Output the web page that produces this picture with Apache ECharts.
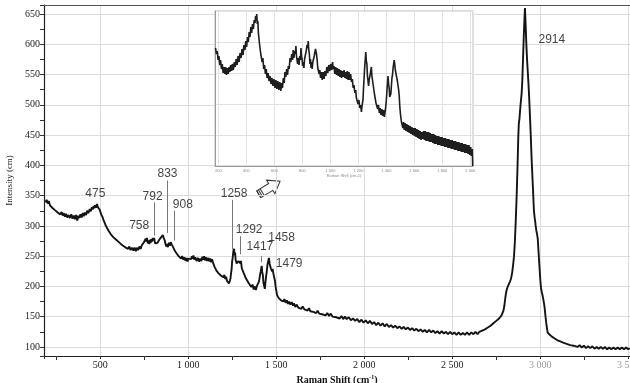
<!DOCTYPE html>
<html>
<head>
<meta charset="utf-8">
<script src="https://cdn.jsdelivr.net/npm/echarts@6/dist/echarts.min.js"></script>
<style>
  html, body { margin: 0; padding: 0; background: #fff; }
  #chart { width: 630px; height: 383px; }
</style>
</head>
<body>
<div id="chart"></div>
<script>
// main spectrum: [raman shift cm-1, intensity]
const mainSpectrum = [
  [188,339],[195,343],[201,337],[207,341],[214,334],[220,337],[227,330],[235,333],[242,326],[250,329],[258,322],[265,325],
  [272,319],[280,323],[286,317],[292,321],[299,315],[305,320],[312,314],[320,318],[327,313],[335,319],[342,312],[349,317],
  [356,311],[362,318],[369,309],[375,317],[381,313],[387,319],[394,314],[400,321],[406,316],[412,322],[419,318],[425,325],
  [432,321],[440,328],[446,324],[452,331],[457,327],[462,333],[466,329],[470,334],[475,330],[481,336],[486,331],[490,334],
  [496,327],[501,324],[505,319],[512,315],[519,309],[525,305],[530,301],[538,298],[547,292],[553,290],[560,286],[568,285],
  [575,281],[585,280],[595,276],[603,276],[610,272],[618,273],[625,268],[633,270],[640,265],[651,268],[658,262],[665,266],
  [672,260],[680,264],[688,259],[695,264],[702,258],[708,264],[715,260],[722,266],[729,262],[736,268],[742,266],[748,273],
  [753,270],[758,279],[762,274],[765,280],[770,271],[775,276],[779,270],[782,277],[786,272],[789,278],[794,274],[798,280],
  [802,276],[806,280],[811,271],[815,274],[820,268],[825,272],[830,270],[835,277],[840,275],[845,281],[850,279],[855,285],
  [859,281],[862,283],[866,276],[870,273],[874,266],[878,270],[884,265],[890,272],[895,267],[900,273],[906,269],[911,272],
  [915,264],[920,263],[925,258],[930,259],[935,254],[940,256],[945,250],[953,251],[959,246],[965,250],[972,244],[978,248],
  [985,242],[991,247],[996,241],[1001,246],[1007,243],[1012,249],[1017,245],[1020,250],[1025,246],[1029,251],[1035,244],
  [1040,248],[1047,242],[1055,247],[1061,241],[1067,246],[1074,242],[1080,249],[1086,244],[1090,250],[1095,243],[1100,248],
  [1107,242],[1114,247],[1120,241],[1125,246],[1130,240],[1135,245],[1142,238],[1146,240],[1150,232],[1155,233],[1160,226],
  [1166,228],[1171,222],[1178,224],[1185,218],[1192,221],[1199,215],[1205,219],[1210,212],[1215,216],[1220,209],[1226,212],
  [1231,205],[1236,209],[1240,214],[1243,222],[1246,228],[1249,241],[1252,247],[1256,258],[1260,262],[1263,252],[1266,256],
  [1269,244],[1272,245],[1275,238],[1278,240],[1282,237],[1285,242],[1289,240],[1292,245],[1296,238],[1299,242],[1304,230],
  [1308,231],[1315,222],[1322,222],[1328,213],[1335,214],[1342,206],[1350,207],[1358,199],[1365,203],[1372,195],[1378,200],
  [1384,194],[1390,201],[1395,198],[1400,207],[1404,212],[1408,220],[1412,225],[1417,234],[1420,224],[1424,218],[1427,206],
  [1430,204],[1435,196],[1438,206],[1442,216],[1446,225],[1450,236],[1454,238],[1458,247],[1462,238],[1465,240],[1469,230],
  [1472,232],[1476,225],[1479,229],[1483,222],[1486,224],[1489,214],[1492,210],[1496,200],[1500,193],[1504,186],[1507,188],
  [1513,181],[1520,183],[1527,177],[1533,180],[1539,175],[1546,179],[1553,173],[1560,177],[1567,171],[1573,175],[1580,170],
  [1588,174],[1595,168],[1600,172],[1608,166],[1615,170],[1625,165],[1633,168],[1642,163],[1650,167],[1660,162],[1668,165],
  [1677,160],[1685,164],[1694,159],[1702,162],[1710,158],[1718,161],[1727,156],[1735,160],[1744,155],[1752,158],[1760,154],
  [1770,157],[1780,152],[1790,156],[1800,151],[1810,155],[1820,150],[1830,153],[1840,149],[1850,152],[1860,147],[1870,151],
  [1880,146],[1890,150],[1900,146],[1912,149],[1924,144],[1936,147],[1948,143],[1960,146],[1972,141],[1984,145],[1996,140],
  [2008,144],[2020,139],[2032,143],[2044,138],[2056,141],[2068,136],[2080,140],[2092,135],[2104,139],[2116,134],[2128,138],
  [2140,133],[2152,136],[2164,132],[2176,135],[2188,131],[2200,134],[2212,130],[2224,133],[2236,129],[2248,132],[2260,128],
  [2272,131],[2284,127],[2296,130],[2308,126],[2320,129],[2332,125],[2344,128],[2356,124],[2368,128],[2380,124],[2392,127],
  [2404,123],[2416,126],[2428,122],[2440,126],[2452,122],[2464,125],[2476,121],[2488,125],[2500,121],[2512,124],[2524,120],
  [2536,124],[2548,120],[2560,123],[2572,120],[2584,124],[2596,120],[2608,124],[2620,121],[2632,125],[2644,121],[2654,125],
  [2662,123],[2670,127],[2678,125],[2686,129],[2694,128],[2702,132],[2710,131],[2718,135],[2726,135],[2734,139],[2742,139],
  [2750,143],[2758,143],[2766,147],[2774,148],[2780,152],[2786,155],[2791,160],[2796,168],[2801,180],[2806,190],[2811,196],
  [2816,200],[2822,204],[2828,208],[2834,213],[2840,222],[2846,236],[2851,250],[2856,275],[2861,310],[2866,350],[2871,400],
  [2875,445],[2878,468],[2882,478],[2888,500],[2894,518],[2898,540],[2902,575],[2906,610],[2910,640],[2913,660],[2917,632],
  [2921,600],[2925,575],[2929,555],[2933,535],[2937,512],[2941,485],[2946,450],[2951,410],[2956,378],[2960,352],[2964,325],
  [2968,314],[2971,308],[2974,300],[2978,292],[2982,286],[2986,278],[2990,258],[2995,235],[3000,212],[3004,198],[3009,190],
  [3014,184],[3019,176],[3024,167],[3030,150],[3036,135],[3042,124],[3048,125],[3054,120],[3060,121],[3066,117],[3074,119],
  [3082,114],[3090,116],[3098,111],[3106,113],[3114,109],[3122,111],[3130,107],[3140,109],[3150,105],[3160,107],[3170,103],
  [3180,105],[3190,102],[3200,104],[3212,100],[3224,103],[3236,99],[3248,102],[3260,98],[3272,101],[3284,98],[3296,101],
  [3308,97],[3320,100],[3332,97],[3344,100],[3356,97],[3368,100],[3380,96],[3392,99],[3404,96],[3416,99],[3428,96],
  [3440,99],[3452,96],[3464,99],[3476,96],[3488,99],[3500,96],[3508,98]
];

// inset spectrum (relative intensity, no scale shown)
const insetSpectrum = [
  [180,118],[186,112],[192,115],[198,106],[204,110],[210,101],[216,106],[222,97],[228,102],[234,93],[240,99],[246,92],
  [252,99],[258,91],[264,98],[270,92],[276,99],[282,94],[288,101],[294,95],[300,102],[307,96],[314,104],[320,99],[327,107],
  [334,101],[341,110],[348,104],[355,113],[362,108],[369,117],[376,111],[383,121],[390,116],[396,125],[402,119],[408,129],
  [414,124],[420,134],[426,129],[432,139],[438,133],[444,142],[450,137],[456,146],[462,143],[466,150],[470,145],[474,152],
  [478,142],[482,145],[486,133],[490,134],[494,122],[498,123],[503,112],[508,114],[513,104],[518,108],[524,97],[530,101],
  [536,92],[542,97],[548,88],[555,93],[562,85],[569,90],[576,82],[583,88],[590,80],[597,87],[604,78],[611,86],[618,77],
  [625,85],[632,76],[639,84],[646,75],[652,83],[658,78],[664,88],[670,83],[676,94],[682,89],[688,97],[694,91],[700,100],
  [706,97],[712,108],[718,104],[724,112],[730,106],[735,116],[740,108],[745,115],[750,112],[754,120],[758,110],[762,112],
  [766,102],[771,108],[776,101],[781,110],[786,106],[790,118],[794,110],[798,107],[802,100],[806,104],[811,98],[816,107],
  [821,108],[826,114],[830,115],[834,121],[838,118],[842,125],[846,116],[850,112],[854,102],[858,107],[862,98],[866,104],
  [870,97],[875,104],[880,103],[885,110],[890,109],[894,117],[897,119],[901,112],[905,107],[910,98],[915,100],[920,92],
  [925,96],[930,88],[936,94],[942,86],[948,94],[955,87],[961,95],[968,90],[975,99],[982,93],[989,101],[996,95],[1003,102],
  [1010,96],[1016,104],[1020,97],[1026,100],[1032,92],[1038,99],[1044,91],[1050,98],[1056,90],[1062,97],[1068,89],[1074,96],
  [1080,88],[1086,95],[1092,89],[1098,96],[1104,88],[1110,94],[1115,87],[1121,95],[1127,86],[1133,94],[1139,86],[1145,92],
  [1151,84],[1157,87],[1163,78],[1169,81],[1175,73],[1181,76],[1186,68],[1192,70],[1198,62],[1204,66],[1210,58],[1216,61],
  [1222,54],[1228,62],[1233,66],[1237,78],[1241,88],[1245,98],[1249,106],[1253,114],[1257,105],[1261,102],[1265,90],[1269,91],
  [1273,80],[1277,86],[1281,84],[1285,92],[1289,91],[1293,99],[1297,90],[1301,91],[1305,82],[1310,80],[1315,72],[1320,70],
  [1326,63],[1332,64],[1338,57],[1344,61],[1350,53],[1356,58],[1362,51],[1368,57],[1374,50],[1380,56],[1386,49],[1392,55],
  [1396,60],[1400,66],[1404,75],[1408,83],[1412,90],[1416,82],[1420,78],[1424,69],[1428,68],[1432,72],[1436,80],[1440,88],
  [1444,91],[1448,98],[1452,100],[1456,106],[1460,102],[1464,96],[1468,97],[1472,90],[1476,92],[1480,84],[1484,86],[1488,76],
  [1492,70],[1496,60],[1500,53],[1504,48],[1508,44],[1513,46],[1518,38],[1523,44],[1528,36],[1534,43],[1540,35],[1546,42],
  [1552,34],[1558,41],[1564,33],[1570,40],[1576,32],[1582,39],[1588,31],[1594,38],[1600,30],[1606,38],[1612,29],[1618,37],
  [1624,28],[1630,36],[1636,27],[1642,35],[1648,26],[1654,34],[1660,27],[1666,35],[1672,26],[1678,35],[1684,25],[1690,34],
  [1696,25],[1702,34],[1708,24],[1714,33],[1720,24],[1726,32],[1732,23],[1738,32],[1744,22],[1750,31],[1756,22],[1762,30],
  [1768,21],[1774,30],[1780,21],[1786,29],[1792,20],[1798,29],[1804,20],[1810,28],[1816,19],[1822,28],[1828,19],[1834,27],
  [1840,18],[1846,27],[1852,18],[1858,26],[1864,17],[1870,26],[1876,17],[1882,25],[1888,16],[1894,25],[1900,16],[1906,24],
  [1912,15],[1918,24],[1924,15],[1930,23],[1936,14],[1942,23],[1948,14],[1954,22],[1960,13],[1966,22],[1972,13],[1978,21],
  [1984,12],[1990,21],[1996,11],[2002,19],[2008,10],[2014,17],[2017,0]
];

// peak annotations: text, label position [shift, intensity]
const peakNames = ['475', '758', '792', '833', '908', '1258', '1292', '1417', '1458', '1479', '2914'];
const peakLabelAt = [
  [472,353],[721,301],[797,348],[882,386],[969,335],[1260,353],[1346,294],[1407,265],[1530,281],[1573,238],[3066,607]
];
// leader lines: [shift, from intensity, to intensity]
const peakLeaders = [
  [808,339,284],[878,375,288],[921,325,276],[1250,343,261],[1298,283,253],[1416,250,240]
];

const serif = 'Liberation Serif';
const sans = 'Liberation Sans';

function thousands(v) {
  return v >= 1000 ? String(v).replace(/(\d)(?=(\d{3})$)/, '$1 ') : String(v);
}

const chart = echarts.init(document.getElementById('chart'), null, { renderer: 'canvas' });

chart.setOption({
  animation: false,
  backgroundColor: '#fff',
  grid: [
    { left: 44, right: 0, top: 5, bottom: 27, outerBoundsMode: 'none', containLabel: false },
    { left: 215, top: 11, width: 258, height: 155, show: true, backgroundColor: '#fff',
      borderColor: '#bbb', borderWidth: 1, z: 3, outerBoundsMode: 'none', containLabel: false }
  ],
  xAxis: [
    {
      type: 'value', gridIndex: 0, min: 180, max: 3510, splitNumber: 7,
      name: 'Raman Shift (cm{sup|-1})', nameLocation: 'middle', nameGap: 16,
      nameTextStyle: { fontFamily: serif, fontSize: 10, fontWeight: 'bold', color: '#111',
        rich: { sup: { fontFamily: serif, fontSize: 6, fontWeight: 'bold', verticalAlign: 'top', padding: [0, 0, 5, 0] } } },
      axisLine: { lineStyle: { color: '#222', width: 1.2 } },
      axisTick: { show: true, length: 3, lineStyle: { color: '#333' } },
      minorTick: { show: true, splitNumber: 2, length: 4, lineStyle: { color: '#333' } },
      axisLabel: {
        fontFamily: serif, fontSize: 10, color: '#222', margin: 4,
        formatter: v => (v % 500 !== 0 ? '' : (v >= 3000 ? '{g|' + thousands(v) + '}' : thousands(v))),
        rich: { g: { fontFamily: serif, fontSize: 10, color: '#999' } }
      },
      splitLine: { show: true, lineStyle: { color: '#dcdcdc', width: 1 } }
    },
    {
      type: 'value', gridIndex: 1, min: 176, max: 2019, splitNumber: 9, z: 4,
      name: 'Raman Shift (cm-1)', nameLocation: 'middle', nameGap: 8,
      nameTextStyle: { fontFamily: sans, fontSize: 4, color: '#888' },
      axisLine: { lineStyle: { color: '#999', width: 1 } },
      axisTick: { show: false },
      axisLabel: { fontFamily: sans, fontSize: 4, color: '#888', margin: 3,
        formatter: v => (v % 200 !== 0 ? '' : thousands(v)) },
      splitLine: { show: true, lineStyle: { color: '#e2e2e2', width: 1 } }
    },
    {
      type: 'value', gridIndex: 0, position: 'top', min: 180, max: 3510,
      axisLine: { show: true, lineStyle: { color: '#555', width: 1 } },
      axisTick: { show: false }, axisLabel: { show: false }, splitLine: { show: false }
    }
  ],
  yAxis: [
    {
      type: 'value', gridIndex: 0, min: 85, max: 665, splitNumber: 11,
      name: 'Intensity (cm)', nameLocation: 'middle', nameGap: 30,
      nameTextStyle: { fontFamily: serif, fontSize: 9, color: '#222' },
      axisLine: { show: true, lineStyle: { color: '#222', width: 1.2 } },
      axisTick: { show: true, length: 4, lineStyle: { color: '#333' } },
      minorTick: { show: true, splitNumber: 2, length: 4, lineStyle: { color: '#333' } },
      axisLabel: { fontFamily: serif, fontSize: 10, color: '#222', margin: 4,
        formatter: v => (v % 50 !== 0 ? '' : String(v)) },
      splitLine: { show: true, lineStyle: { color: '#dcdcdc', width: 1 } }
    },
    {
      type: 'value', gridIndex: 1, min: 0, max: 155, interval: 31, z: 4,
      axisLine: { show: true, lineStyle: { color: '#999', width: 1 } },
      axisTick: { show: false }, axisLabel: { show: false },
      splitLine: { show: true, lineStyle: { color: '#e2e2e2', width: 1 } }
    }
  ],
  series: [
    {
      type: 'line', xAxisIndex: 0, yAxisIndex: 0, data: mainSpectrum,
      showSymbol: false, symbol: 'none', z: 2,
      lineStyle: { color: '#141414', width: 1.9 }
    },
    {
      type: 'line', xAxisIndex: 1, yAxisIndex: 1, data: insetSpectrum,
      showSymbol: false, symbol: 'none', z: 5,
      lineStyle: { color: '#1e1e1e', width: 1.6 }
    },
    {
      type: 'scatter', xAxisIndex: 0, yAxisIndex: 0, symbolSize: 0, z: 6, silent: true,
      data: peakNames.map((n, i) => ({ name: n, value: peakLabelAt[i] })),
      label: { show: true, position: 'inside', formatter: '{b}',
        fontFamily: sans, fontSize: 12, color: '#111' },
      markLine: {
        silent: true, symbol: ['none', 'none'], animation: false,
        label: { show: false },
        lineStyle: { color: '#777', width: 1, type: 'solid' },
        data: peakLeaders.map(l => [{ coord: [l[0], l[1]] }, { coord: [l[0], l[2]] }])
      }
    }
  ],
  graphic: [
    {
      type: 'group', x: 269, y: 188, rotation: 0.55, z: 10,
      children: [
        { type: 'polygon', shape: { points: [[-12, -4], [2, -4], [2, -8], [13, 0], [2, 8], [2, 4], [-12, 4]] },
          style: { fill: '#fff', stroke: '#333', lineWidth: 1 } },
        { type: 'line', shape: { x1: -12, y1: -4, x2: -12, y2: 4 }, style: { stroke: '#333', lineWidth: 1 } },
        { type: 'line', shape: { x1: -10, y1: -4, x2: -10, y2: 4 }, style: { stroke: '#333', lineWidth: 1 } },
        { type: 'line', shape: { x1: -8, y1: -4, x2: -8, y2: 4 }, style: { stroke: '#333', lineWidth: 1 } }
      ]
    }
  ]
});
</script>
</body>
</html>
